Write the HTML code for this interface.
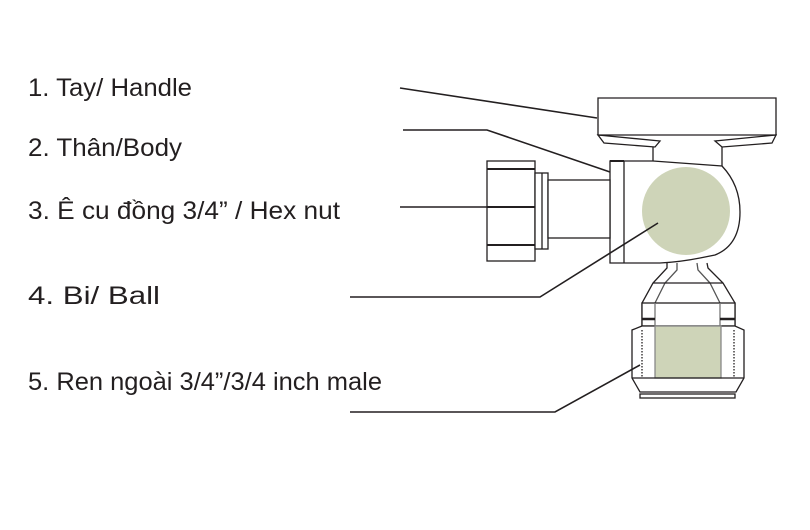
<!DOCTYPE html>
<html><head><meta charset="utf-8"><style>html,body{margin:0;padding:0;background:#fff;width:810px;height:530px;overflow:hidden}</style></head>
<body>
<svg width="810" height="530" viewBox="0 0 810 530" xmlns="http://www.w3.org/2000/svg">
<g font-family="Liberation Sans Narrow, Liberation Sans, DejaVu Sans, sans-serif" font-size="25" fill="#231f20">
<text x="28" y="96" textLength="164" lengthAdjust="spacingAndGlyphs">1. Tay/ Handle</text>
<text x="28" y="156" textLength="154" lengthAdjust="spacingAndGlyphs">2. Thân/Body</text>
<text x="28" y="219" textLength="312" lengthAdjust="spacingAndGlyphs">3. Ê cu đồng 3/4” / Hex nut</text>
<text x="28" y="304" textLength="132" lengthAdjust="spacingAndGlyphs">4. Bi/ Ball</text>
<text x="28" y="390" textLength="354" lengthAdjust="spacingAndGlyphs">5. Ren ngoài 3/4”/3/4 inch male</text>
</g>
<g fill="none" stroke="#231f20" stroke-width="1.3">
<polygon points="598,98 776,98 776,135 598,135" fill="#fff"/>
<polygon points="598,135 604,143 655,147 660,141" />
<polygon points="715,141 722,147 772,143 776,135" />
<line x1="653" y1="147" x2="653" y2="161"/>
<line x1="722" y1="147" x2="722" y2="166"/>
<path d="M624,161 L653,161 L722,166 Q740,185 740,212 Q740,245 715,255 L700,258 Q680,262 660,263 L610,263 L610,161 Z" fill="#fff"/>
<line x1="624" y1="161" x2="624" y2="263"/>
<line x1="610" y1="161" x2="624" y2="161" stroke-width="2"/>
<rect x="487" y="161" width="48" height="100" fill="#fff"/>
<line x1="487" y1="169" x2="535" y2="169" stroke-width="2"/>
<line x1="487" y1="207" x2="535" y2="207" stroke-width="2"/>
<line x1="487" y1="245" x2="535" y2="245" stroke-width="2"/>
<rect x="535" y="173" width="13" height="76" fill="#fff"/>
<line x1="542" y1="173" x2="542" y2="249"/>
<rect x="548" y="180" width="62" height="58" fill="#fff"/>
<path d="M667,263 L667,268 L653,283 L642,303 L642,326 M707,263 L708,268 L723,283 L735,303 L735,326"/>
<path d="M677,263 L677,270 L665,283 L655,303 M697,263 L698,270 L710,283 L720,303" stroke="#555"/>
<line x1="653" y1="283" x2="723" y2="283"/>
<rect x="642" y="303" width="93" height="23" fill="#fff"/>
<line x1="655" y1="303" x2="655" y2="326" stroke="#777"/>
<line x1="720" y1="303" x2="720" y2="326" stroke="#777"/>
<line x1="642" y1="319" x2="655" y2="319" stroke-width="2.5"/>
<line x1="720" y1="319" x2="735" y2="319" stroke-width="2.5"/>
<path d="M642,326 L632,330 L632,378 L640,392 L736,392 L744,378 L744,330 L735,326 Z" fill="#fff"/>
<rect x="655" y="326" width="66" height="52" fill="#ced4b8" stroke="#888"/>
<line x1="632" y1="378" x2="744" y2="378"/>
<line x1="642" y1="330" x2="642" y2="378" stroke-dasharray="1.5,1.5"/>
<line x1="734" y1="330" x2="734" y2="378" stroke-dasharray="1.5,1.5"/>
<rect x="640" y="394" width="95" height="4" fill="#fff"/>
</g>
<circle cx="686" cy="211" r="44" fill="#ced4b8"/>
<g fill="none" stroke="#231f20" stroke-width="1.6">
<polyline points="400,88 597,118"/>
<polyline points="403,130 487,130 610,172"/>
<polyline points="400,207 492,207"/>
<polyline points="350,297 540,297 658,223"/>
<polyline points="350,412 555,412 640,365"/>
</g>
</svg>
</body></html>
